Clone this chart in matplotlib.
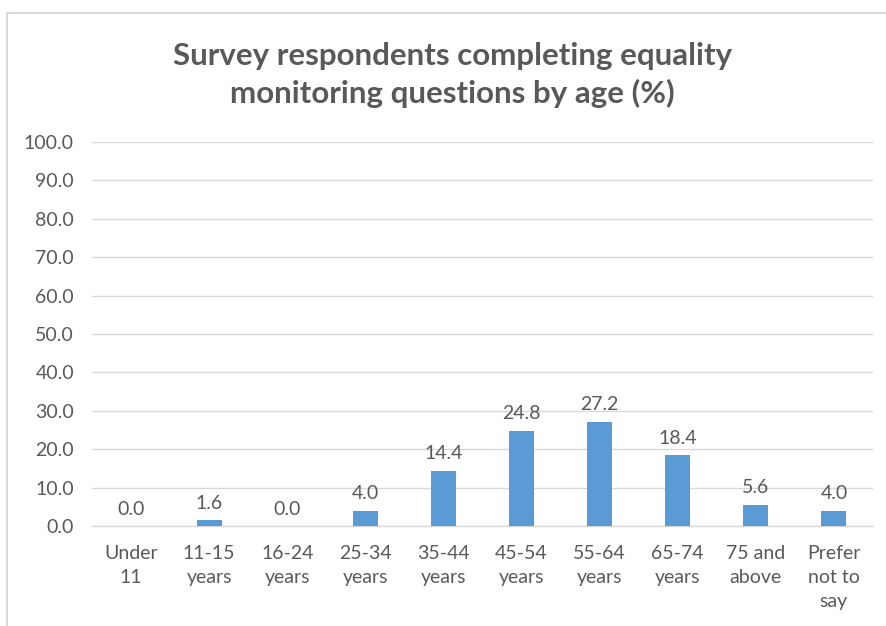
import matplotlib
matplotlib.use("Agg")
import matplotlib.pyplot as plt
from matplotlib.patches import Rectangle

# chart data
categories = ["Under\n11", "11-15\nyears", "16-24\nyears", "25-34\nyears", "35-44\nyears",
              "45-54\nyears", "55-64\nyears", "65-74\nyears", "75 and\nabove", "Prefer\nnot to\nsay"]
percent = [0.0, 1.6, 0.0, 4.0, 14.4, 24.8, 27.2, 18.4, 5.6, 4.0]
yticks = [0, 10, 20, 30, 40, 50, 60, 70, 80, 90, 100]

bar_color = "#5B9BD5"
text_color = "#595959"
grid_color = "#D9D9D9"

plt.rcParams["font.family"] = ["Lato", "DejaVu Sans"]

fig = plt.figure(figsize=(8.87, 6.26), dpi=100)

# outer chart border (Excel style), bottom and right fall off the picture
fig.patches.append(Rectangle((0.008, -0.05), 1.1, 1.029, transform=fig.transFigure,
                             fill=False, edgecolor=grid_color, linewidth=1.5))

ax = fig.add_axes([0.1037, 0.1597, 0.8805, 0.6134])
x = range(len(categories))
ax.bar(x, percent, width=0.32, color=bar_color, zorder=3)

for xi, v in zip(x, percent):
    ax.annotate(f"{v:.1f}", (xi, v), xytext=(0, 6), textcoords="offset points",
                ha="center", va="bottom", fontsize=14, color=text_color)

ax.set_xlim(-0.5, len(categories) - 0.5)
ax.set_ylim(0, 100)
ax.set_yticks(yticks)
ax.set_yticklabels([f"{t:.1f}" for t in yticks])
ax.set_xticks(list(x))
ax.set_xticklabels(categories, linespacing=1.5)
ax.tick_params(axis="both", length=0, labelsize=14, labelcolor=text_color)
ax.tick_params(axis="y", pad=13)
ax.tick_params(axis="x", pad=14)
ax.yaxis.grid(True, color=grid_color, linewidth=1.0, zorder=0)
for side in ["top", "right", "left"]:
    ax.spines[side].set_visible(False)
ax.spines["bottom"].set_color(grid_color)
ax.spines["bottom"].set_linewidth(1.0)

fig.text(0.51, 0.880, "Survey respondents completing equality\nmonitoring questions by age (%)",
         ha="center", va="center", fontsize=22.5, fontweight="bold", color=text_color,
         linespacing=1.38)

fig.savefig("out.png", dpi=100)
